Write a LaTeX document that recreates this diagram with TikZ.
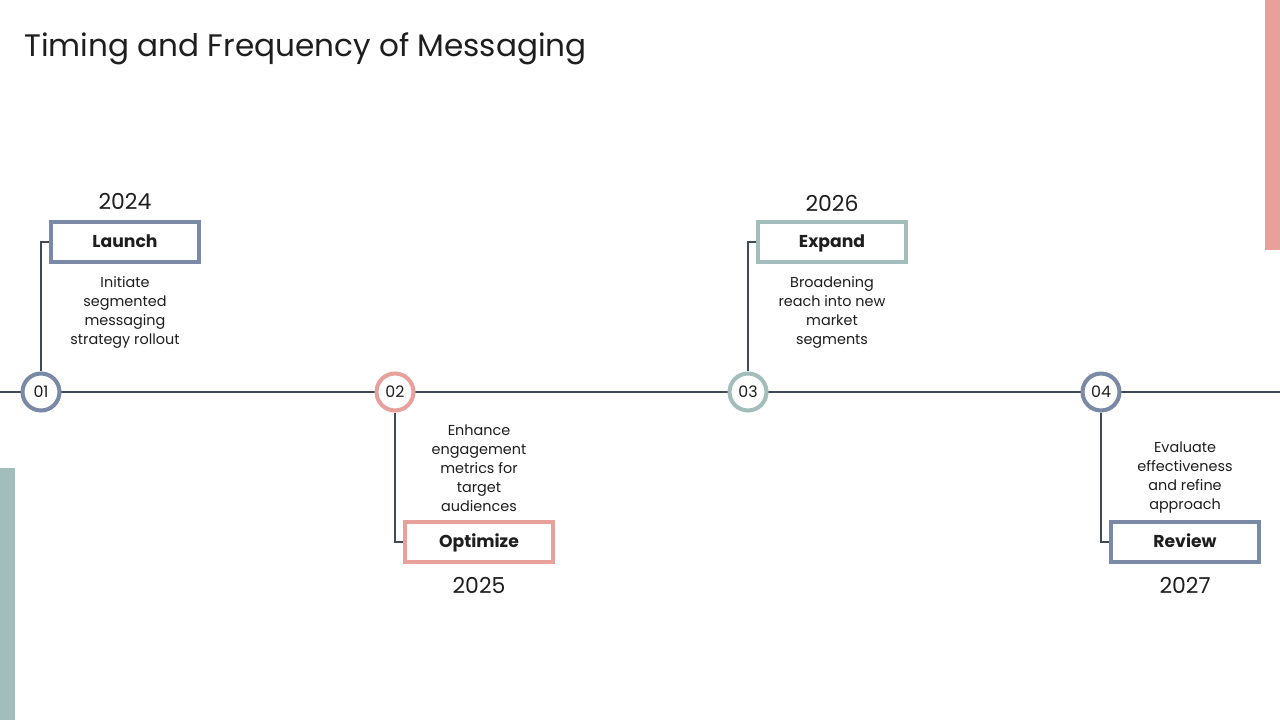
\documentclass[tikz,border=0pt]{standalone}
\usepackage{fontspec}
\setmainfont{Poppins}
\usetikzlibrary{positioning}
\definecolor{slate}{HTML}{7A89A6}
\definecolor{rose}{HTML}{E8A09A}
\definecolor{mist}{HTML}{A3BCBC}
\definecolor{axis}{HTML}{3E4A56}
\definecolor{ink}{HTML}{1E1E1E}

\begin{document}
\begin{tikzpicture}[x=0.02cm, y=-0.02cm,
  marker/.style={circle, draw=#1, fill=white, line width=2.3pt, minimum size=0.74cm,
    inner sep=0pt, text=ink, font=\fontsize{9}{10}\selectfont},
  stagebox/.style={draw=#1, fill=white, line width=2.3pt, minimum width=2.95cm,
    minimum height=0.8cm, inner sep=0pt, text height=1.55ex, text depth=0.45ex,
    text=ink, font=\fontsize{9.8}{11}\bfseries\selectfont},
  yearlbl/.style={text=ink, font=\fontsize{12.5}{14}\selectfont},
  desc/.style={text=ink, align=center, font=\fontsize{8.2}{10.8}\selectfont},
  link/.style={axis, line width=0.6pt}]

% Canvas
\useasboundingbox (0,0) rectangle (1280,720);
\fill[white] (0,0) rectangle (1280,720);

% Side bars
\fill[rose] (1265,0) rectangle (1280,250);
\fill[mist] (0,468) rectangle (15,720);

% Title
\node[anchor=base west, text=ink, font=\fontsize{17.7}{20}\selectfont] (title) at (18,56)
  {Timing and Frequency of Messaging};

% Timeline
\coordinate (tl) at (0,392);
\coordinate (tr) at (1280,392);
\draw[axis, line width=0.7pt] (tl) -- (tr);

% Milestone markers
\node[marker=slate] (m1) at (41,392) {01};
\node[marker=rose]  (m2) at (395,392) {02};
\node[marker=mist]  (m3) at (748,392) {03};
\node[marker=slate] (m4) at (1101,392) {04};

% Stage boxes
\node[stagebox=slate] (launch) at (125,242) {Launch};
\node[stagebox=rose]  (optimize) at (479,542) {Optimize};
\node[stagebox=mist]  (expand) at (832,242) {Expand};
\node[stagebox=slate] (review) at (1185,542) {Review};

% Years
\node[yearlbl, above=0.08cm of launch] (y1) {2024};
\node[yearlbl, below=0.15cm of optimize] (y2) {2025};
\node[yearlbl, above=0.05cm of expand] (y3) {2026};
\node[yearlbl, below=0.15cm of review] (y4) {2027};

% Descriptions
\node[desc, below=0.13cm of launch] (d1)
  {Initiate\\segmented\\messaging\\strategy rollout};
\node[desc, above=0.05cm of optimize] (d2)
  {Enhance\\engagement\\metrics for\\target\\audiences};
\node[desc, below=0.13cm of expand] (d3)
  {Broadening\\reach into new\\market\\segments};
\node[desc, above=0.01cm of review] (d4)
  {Evaluate\\effectiveness\\and refine\\approach};

% Connectors
\draw[link] (m1.north) |- (launch.west);
\draw[link] (m2.south) |- (optimize.west);
\draw[link] (m3.north) |- (expand.west);
\draw[link] (m4.south) |- (review.west);

\end{tikzpicture}
\end{document}
